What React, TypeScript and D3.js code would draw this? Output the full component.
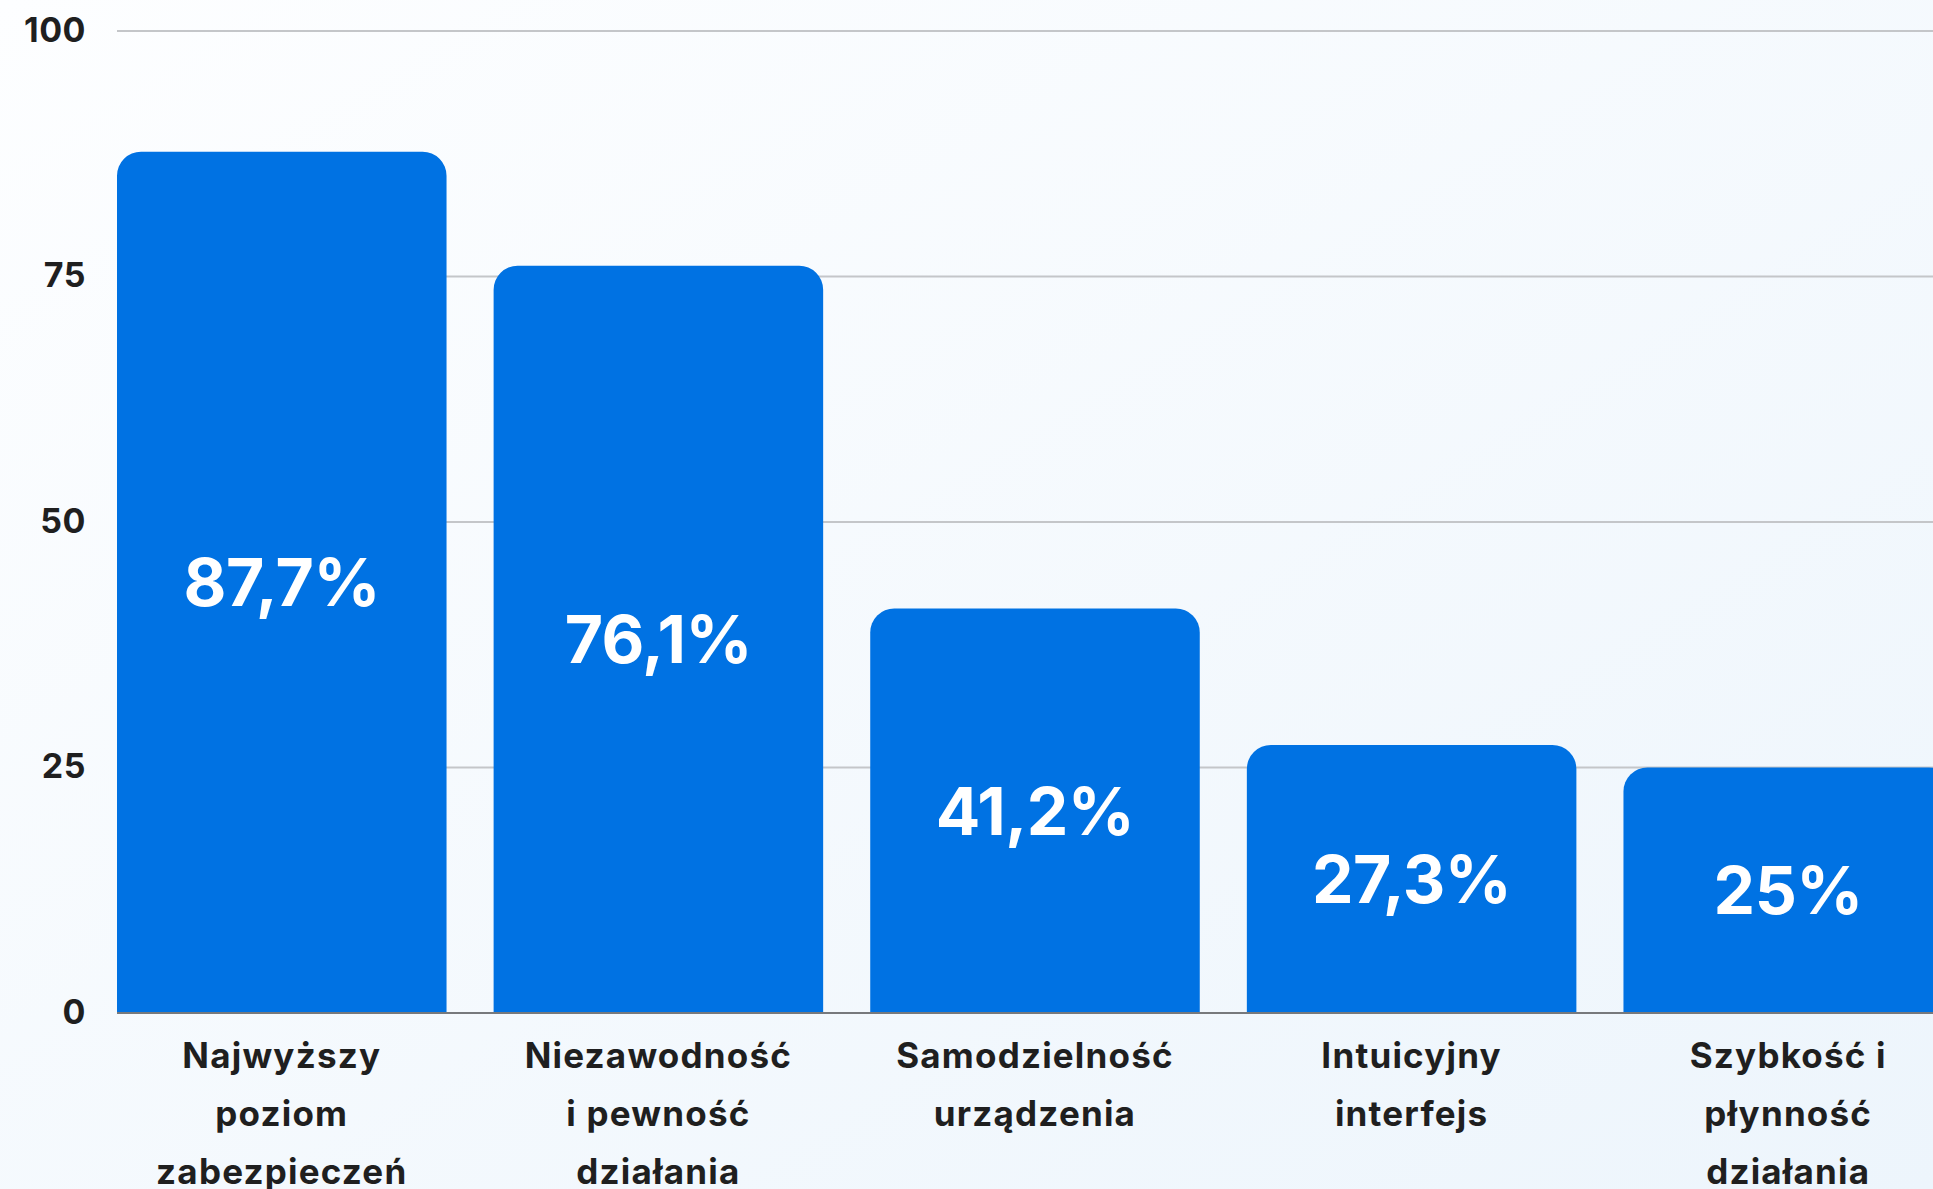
import { useEffect, useRef } from 'react'
import * as d3 from 'd3'

const categories = [
  ['Najwyższy', 'poziom', 'zabezpieczeń'],
  ['Niezawodność', 'i pewność', 'działania'],
  ['Samodzielność', 'urządzenia'],
  ['Intuicyjny', 'interfejs'],
  ['Szybkość i', 'płynność', 'działania'],
]
const values = [87.7, 76.1, 41.2, 27.3, 25]
const valueLabels = ['87,7%', '76,1%', '41,2%', '27,3%', '25%']
const yTicks = [0, 25, 50, 75, 100]

const W = 1933
const H = 1189
const FONT = 'Inter, "Noto Sans", sans-serif'

export default function App() {
  const svgRef = useRef<SVGSVGElement>(null)

  useEffect(() => {
    if (!svgRef.current) return
    const svg = d3.select(svgRef.current)
    svg.selectAll('*').remove()

    const left = 117
    const y0 = 1013
    const y100 = 31

    const defs = svg.append('defs')
    const grad = defs.append('linearGradient')
      .attr('id', 'bg').attr('x1', '0%').attr('y1', '0%').attr('x2', '100%').attr('y2', '100%')
    grad.append('stop').attr('offset', '0%').attr('stop-color', '#fdfeff')
    grad.append('stop').attr('offset', '100%').attr('stop-color', '#edf5fc')
    svg.append('rect').attr('width', W).attr('height', H).attr('fill', 'url(#bg)')

    const idx = values.map((_, i) => String(i))
    const x = d3.scaleBand()
      .domain(idx)
      .range([left, 1953])
      .paddingInner(0.125)
      .paddingOuter(0)

    const y = d3.scaleLinear().domain([0, 100]).range([y0, y100])

    // grid
    svg.append('g')
      .selectAll('line')
      .data(yTicks.filter(t => t > 0))
      .join('line')
      .attr('x1', left).attr('x2', W)
      .attr('y1', d => y(d)).attr('y2', d => y(d))
      .attr('stroke', '#c4c6c9').attr('stroke-width', 2)

    // y labels
    svg.append('g')
      .selectAll('text')
      .data(yTicks)
      .join('text')
      .attr('x', 86)
      .attr('y', d => y(d) - 2)
      .attr('text-anchor', 'end')
      .attr('dominant-baseline', 'central')
      .attr('font-family', FONT)
      .attr('font-weight', 700)
      .attr('font-size', 34)
      .attr('letter-spacing', 0.5)
      .attr('fill', '#1f1f1f')
      .text(d => d)

    const r = 24
    const bw = x.bandwidth()
    const barPath = (v: number, i: number) => {
      const x0 = x(String(i)) || 0
      const top = y(v)
      const p = d3.path()
      p.moveTo(x0, y0)
      p.lineTo(x0, top + r)
      p.arcTo(x0, top, x0 + r, top, r)
      p.lineTo(x0 + bw - r, top)
      p.arcTo(x0 + bw, top, x0 + bw, top + r, r)
      p.lineTo(x0 + bw, y0)
      p.closePath()
      return p.toString()
    }

    svg.append('g')
      .selectAll('path')
      .data(values)
      .join('path')
      .attr('d', (d, i) => barPath(d, i))
      .attr('fill', '#0072e3')

    // axis line
    svg.append('line')
      .attr('x1', left).attr('x2', W)
      .attr('y1', y0).attr('y2', y0)
      .attr('stroke', '#77797c').attr('stroke-width', 2)

    // value labels
    svg.append('g')
      .selectAll('text')
      .data(values)
      .join('text')
      .attr('x', (d, i) => (x(String(i)) || 0) + bw / 2)
      .attr('y', d => (y(d) + y0) / 2)
      .attr('text-anchor', 'middle')
      .attr('dominant-baseline', 'central')
      .attr('font-family', FONT)
      .attr('font-weight', 700)
      .attr('font-size', 66)
      .attr('letter-spacing', -0.5)
      .attr('fill', '#ffffff')
      .text((d, i) => valueLabels[i])

    // category labels
    const cat = svg.append('g')
      .selectAll('text')
      .data(categories)
      .join('text')
      .attr('text-anchor', 'middle')
      .attr('font-family', FONT)
      .attr('font-weight', 700)
      .attr('font-size', 35)
      .attr('letter-spacing', 1.2)
      .attr('fill', '#1f1f1f')

    cat.each(function (lines, i) {
      const cx = (x(String(i)) || 0) + bw / 2
      d3.select(this)
        .selectAll('tspan')
        .data(lines)
        .join('tspan')
        .attr('x', cx)
        .attr('y', (_, j) => 1055 + j * 58)
        .attr('dominant-baseline', 'central')
        .text(t => t)
    })
  }, [])

  return (
    <svg
      ref={svgRef}
      width={W}
      height={H}
      style={{ position: 'fixed', left: 0, top: 0, display: 'block' }}
    />
  )
}
